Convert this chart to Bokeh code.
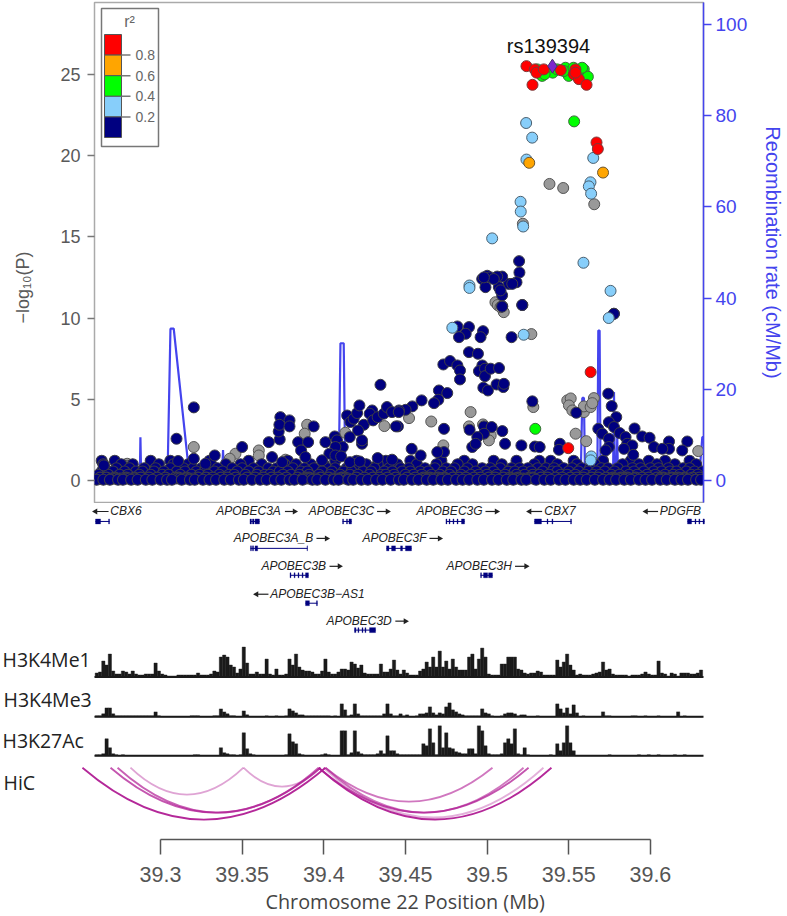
from bokeh.plotting import figure
from bokeh.layouts import column
from bokeh.models import Range1d, LinearAxis, FixedTicker, Title
from bokeh.core.properties import value
from bokeh.embed import file_html
from bokeh.resources import INLINE

# ---- association data: position in kb from 39.26 Mb, -log10(P) ----
navy_kb = [249.3,261.6,317.7,221.8,228.9,226.9,222.8,237.5,236,255,228.9,234.4,213.2,217.3,221.8,223.4,223.4,237.1,235,238.7,238.7,242.2,247.3,237.7,240.5,245.8,249.9,250.3,210.5,215.6,210.1,207.5,199.9,194.2,190.1,186,267.7,294.6,314.2,316.3,319.1,314.6,317.7,308.1,310.5,314.6,321.2,324.8,330.3,335,339.5,325.8,328.9,323.8,329.5,342.2,351.4,362.6,351.4,359.5,347.3,314.6,312.6,284.6,284,269.3,272.2,261,251,213.6,229.3,238.1,242.8,238.1,234,249.3,230.9,233,213.6,209.5,193.8,199.3,185.4,
 60.4,49.8,60.4,50.8,90,73.2,67.5,106.3,113,112.4,113.4,112.8,119,119,124.3,130.4,126.1,128.7,133.8,141,146.7,148.1,151.6,147.1,143.4,147.1,150.6,154.3,156.3,158.3,160.4,161.8,164.5,161,155.9,163.4,163.4,169.6,168.1,170.2,173,176.7,178.7,174.7,181.8,185.9,184.2,138.9,155.9,173,181.8,162,114.5,108.3,5.3,
 259.6,259.8,258,253.3,249.2,246.2,240.1,237,239,247.2,249.2,249.2,261.5,242,244.1,238,255.4,248.2,317.6]
navy_y = [10.73,10.8,10.26,9.48,9.44,9.03,8.82,9.19,8.82,8.82,7.9,7.8,7.14,7.35,7.08,6.77,6.22,7.08,6.73,6.88,6.42,6.88,6.92,5.71,5.54,5.91,5.75,5.95,5.54,5.38,4.97,4.76,4.93,4.56,4.35,4.31,4.87,4.17,5.34,4.58,3.9,3.59,3.29,3.18,2.88,2.57,2.92,2.67,3.2,2.71,2.63,2.26,2.16,1.95,1.58,2.06,2.4,2.4,1.95,1.85,1.95,2.06,1.85,2.26,1.89,2.09,2.06,2.16,2.26,3.18,3.12,3.33,3.29,2.88,2.67,3.04,2.06,2.26,1.75,1.75,1.95,1.54,3.33,
 4.5,2.57,1.34,1.2,2.06,1.54,1.03,2.36,2.53,3.02,3.9,3.43,3.7,3.33,2.36,2.36,1.85,1.44,3.33,2.36,2.71,2.47,2.06,2.06,1.65,1.54,1.48,4.0,3.6,3.8,4.15,4.62,3.43,3.08,2.67,2.26,2.47,4.31,4.11,3.7,3.9,4.11,4.52,5.89,4.21,4.21,3.33,1.24,1.13,1.38,1.28,1.17,1.13,1.44,0.93,
 13.5,12.8,12.2,12.1,12.55,12.55,12.6,12.4,11.9,11.9,11.4,10.7,10.8,12.5,12.4,12.5,12.1,11.7,10.26]

band_a = [1,5,9,14,17,22,26,31,35,40,44,47,53,58,61,66,70,74,79,83,88,91,96,101,105,110,114,119,122,127,133,136,141,146,149,155,158,163,167,172,176,181,186,189,194,198,203,207,212,216,221,225,229,234,238,243,247,252,256,261,264,270,275,279,284,288,293,297,301,306,311,315,319,324,328,333,337,341,346,350,355,359,363,368,371]
band_b = [3,7,12,19,24,28,33,38,43,49,51,56,63,68,72,77,81,86,93,98,103,108,112,117,124,129,131,138,143,151,153,160,165,170,174,179,184,191,196,201,205,210,214,219,223,227,232,236,241,245,250,254,259,266,268,273,277,282,286,291,295,299,304,308,313,317,322,326,331,335,339,344,348,353,357,361,366,370]
band_c = [2,8,15,20,27,34,41,45,52,59,64,69,76,82,85,92,99,104,107,115,120,125,131,137,144,150,156,161,168,175,178,183,190,195,200,206,211,217,224,230,235,240,246,251,258,263,268,272,278,285,289,294,300,305,309,316,321,327,332,338,343,349,354,358,365,369]
band_d = [4,11,18,25,29,36,42,50,55,62,67,73,78,87,94,100,109,113,118,126,130,139,145,152,157,164,169,177,182,188,193,199,204,213,218,226,233,239,244,253,257,262,267,274,280,283,290,296,302,307,312,318,325,330,336,342,347,352,356,362,367,372]
band_e = [6,13,21,30,37,46,54,60,65,75,84,90,97,106,111,121,128,134,142,147,154,162,171,180,187,192,202,208,215,220,228,237,242,248,255,260,265,271,276,281,287,292,298,303,310,314,320,329,334,340,345,351,360,364]
band_f = [5,16,23,39,48,57,71,80,89,102,116,123,132,140,159,166,173,185,197,209,222,231,249,269,283,295,306,323,333,344,355,368]
band_g = [4,12,34,46,70,94,118,147,160,178,193,212,226,244,258,272,279,293,311,328,339,349,364]
band_h = [10,11.5,13,15,16.5,19,21,24,50,52,54,55.5,58,60,127,129,130.5,132,134,135,146,148,150,151,153,155,200,202,204,205,207,209,212,214,255,257,258,260,262,264,266,268,316,318,319,321,323,325,327,330,346,348,351,353,356,358,361,364]
band_a_y = 0.05
band_b_y = 0.18
band_c_y = 0.35
band_d_y = 0.55
band_e_y = 0.75
band_f_y = 1.0
band_g_y = 1.22
band_h_y = 0.12

grey_kb = [19.6,85.9,82.4,100.2,100.2,116.5,129.8,128.3,153.2,177.1,192.2,205.8,229.9,268.3,289.1,291.2,290.1,292.2,299.3,299.3,303.4,305.4,304.4,294.2,300.7,369.3,228.9,242.2,237.5,241.1,213.2,267.1,60.4,278.2,286.6,305.6,261.9,245.1,246.5,250.2,248.2,
 2,10,20,32,55,76,95,135,148,178,200,216,240,275,310,338,358,366]
grey_y = [1.03,1.65,1.34,1.85,1.54,1.28,3.43,2.88,2.94,3.35,3.84,3.63,4.21,4.52,4.93,5.05,4.62,4.31,4.21,4.56,4.52,5.07,4.76,2.88,2.42,1.81,3.33,2.77,3.45,2.47,2.16,9.01,2.06,18.25,18,17,15.8,10.97,10.8,10.36,10.67,
 0.2,0.5,0.9,0.3,0.2,0.4,0.3,0.5,0.2,0.4,0.2,0.6,0.3,0.2,0.5,0.3,0.7,0.4]

light_kb = [263.9,267.6,264.1,305,303.3,302.3,303.7,260.5,260.6,262.1,243.1,299,315.6,229.2,229.2,314.5,218.7,262.4,303.8,303.4]
light_y = [22,21.1,19.75,19.85,18.35,18.1,17.65,17.15,16.55,15.63,14.9,13.4,11.67,12,11.85,10,9.4,8.97,1.48,1.24]

green_kb = [293.3,273.7,280.2,288,290,299.2,301.7,270.7,282.9,287,292.9,298.2,275.2,269.5]
green_y = [22.1,24.9,25.1,25.4,24.9,25.3,24.85,25.3,25.3,25.2,25.4,25.4,25.0,3.18]

orange_kb = [265.8,311]
orange_y = [19.55,18.95]

red_kb = [264.1,269.2,270.3,267.8,274.7,285.1,294.1,293.1,296.2,300.9,294.1,307,307.8,303.4,289.7]
red_y = [25.5,25.3,25.1,24.35,25.3,25.25,25.3,25.0,24.7,24.35,25.1,20.8,20.4,6.67,1.99]

lead_kb = [280]
lead_y = [25.5]
lead_label = "rs139394"

# ---- recombination rate ----
rate_kb = [0,27.3,27.7,28.2,44.5,46.1,48.1,56.7,57.5,77.6,78.3,79,91,92,93,95,96,97,148.8,149.2,150.2,152.2,153.2,259.8,260.5,261.2,297.3,298.3,299.3,300,307.5,308.1,308.9,309.5,312,312.6,313.2,317.1,317.7,318.3,319.2,319.7,320.2,369.7,371.8,372.5]
rate_v = [0,0,9.5,0,4.4,33.3,33.3,4.4,0,0,6.7,0,0,3,0,0,4,0,0,3,30.1,30.1,0,0,3,0,0,18.1,18.1,0,0,32.9,32.9,0,0,10,0,0,19.4,0,0,9.5,0,0,9.5,9.5]

# ---- legend ----
legend_title = "r²"
legend_colors = ["#ff0000", "#ffa500", "#00ff00", "#87cefa", "#000080"]
legend_ticks = ["0.8", "0.6", "0.4", "0.2"]

y_ticks = [0, 5, 10, 15, 20, 25]
rate_ticks = [0, 20, 40, 60, 80, 100]

# ---- genes (Mb) ----
gene_names = ["CBX6", "APOBEC3A", "APOBEC3C", "APOBEC3G", "CBX7", "PDGFB",
              "APOBEC3A_B", "APOBEC3F", "APOBEC3B", "APOBEC3H", "APOBEC3B−AS1", "APOBEC3D"]
gene_row = [0, 0, 0, 0, 0, 0, 1, 1, 2, 2, 3, 4]
gene_label_mb = [39.2789, 39.3539, 39.4108, 39.4770, 39.5446, 39.6184, 39.3692, 39.4433, 39.3816, 39.4952, 39.3961, 39.4216]
arrow_tail = [39.2682, 39.3762, 39.4326, 39.4990, 39.5337, 39.6047, 39.3955, 39.4647, 39.4035, 39.5171, 39.3661, 39.4438]
arrow_tip = [39.2602, 39.3821, 39.4390, 39.5058, 39.5260, 39.5973, 39.4017, 39.4709, 39.4096, 39.5239, 39.3588, 39.4500]
gene_start = [39.2602, 39.3548, 39.4115, 39.4751, 39.5290, 39.6227, 39.3551, 39.4384, 39.3796, 39.4960, 39.3888, 39.4188]
gene_end = [39.2688, 39.3606, 39.4170, 39.4862, 39.5517, 39.6331, 39.3900, 39.4537, 39.3906, 39.5033, 39.3961, 39.4317]
exon_gene = [0,0, 1,1,1, 2,2,2, 3,3,3,3,3, 4,4,4,4, 5,5,5,5, 6,6,6,6, 7,7,7,7, 8,8,8,8,8, 9,9,9, 10,10, 11,11,11,11,11]
exon_start = [39.2602,39.2682, 39.3548,39.3563,39.3579, 39.4115,39.4139,39.4154, 39.4748,39.4767,39.4791,39.4816,39.4843,
              39.5290,39.5367,39.5397,39.5511, 39.6227,39.6273,39.6297,39.6322, 39.3551,39.3563,39.3579,39.3897,
              39.4384,39.4415,39.4470,39.4500, 39.3793,39.3818,39.3842,39.3867,39.3888, 39.4960,39.4978,39.5009,
              39.3888,39.3955, 39.4188,39.4209,39.4234,39.4252,39.4280]
exon_end = [39.2633,39.2688, 39.3557,39.3573,39.3606, 39.4121,39.4145,39.4170, 39.4754,39.4773,39.4797,39.4822,39.4862,
            39.5333,39.5373,39.5403,39.5517, 39.6252,39.6279,39.6303,39.6331, 39.3557,39.3570,39.3595,39.3900,
            39.4399,39.4439,39.4482,39.4537, 39.3799,39.3824,39.3848,39.3873,39.3906, 39.4966,39.5003,39.5033,
            39.3912,39.3961, 39.4197,39.4215,39.4240,39.4258,39.4317]

# ---- histone tracks: signal per 2 kb bin from 39.26 Mb ----
h3k4me1 = [4,5,16,12,23,6,3,3,6,5,3,6,3,2,2,3,3,3,14,6,3,2,1,1,1,2,2,2,2,2,2,4,2,2,2,3,6,5,20,22,20,12,10,4,8,30,14,3,3,5,3,3,18,3,2,8,2,2,3,18,12,23,10,7,6,6,5,3,3,6,18,5,3,3,5,8,8,7,15,13,9,12,4,3,3,3,3,13,5,5,8,17,7,3,7,4,2,2,2,6,8,15,10,20,10,26,10,16,8,18,10,7,7,7,20,23,8,18,29,20,3,2,2,2,13,13,20,20,20,8,7,4,3,4,4,6,5,2,2,2,2,17,10,15,23,12,7,2,3,2,2,2,3,4,5,15,7,8,3,2,2,2,2,1,2,2,2,3,5,3,2,2,16,4,3,1,4,3,1,4,4,4,3,3,4,7]
h3k4me3 = [1,1,3,9,9,3,1,1,1,1,1,1,1,1,1,1,1,1,5,1,0,0,0,0,0,0,0,0,0,1,1,1,0,0,0,0,1,1,8,5,3,1,1,0,0,6,2,0,0,0,0,0,1,0,0,1,0,0,1,8,6,4,2,2,1,1,1,1,1,1,1,1,0,1,0,13,7,1,2,13,3,1,1,1,1,1,1,1,3,13,3,1,1,3,1,2,0,0,1,3,3,4,10,4,2,4,3,10,14,7,5,3,2,1,1,1,1,1,8,4,3,1,0,0,1,3,4,4,3,1,2,2,0,0,0,1,0,0,0,0,0,13,8,4,9,3,12,4,0,1,0,0,0,0,0,5,1,1,0,0,0,0,0,0,1,1,0,0,1,0,0,0,1,0,0,0,0,0,5,0,1,0,0,0,0,0]
h3k27ac = [1,1,2,17,8,2,1,0,1,0,0,0,0,0,0,0,0,0,0,0,0,0,0,0,0,0,0,0,0,0,1,1,0,0,0,0,0,0,8,3,2,1,1,0,1,23,7,2,1,0,0,0,0,0,0,0,0,0,1,22,14,12,2,1,0,0,0,0,0,1,2,1,0,0,0,25,25,1,3,25,4,2,1,1,1,1,2,5,2,20,5,5,2,1,1,1,1,1,1,1,12,10,27,13,1,30,8,23,8,7,4,3,2,2,7,7,2,30,25,10,2,1,1,1,2,13,17,12,27,2,1,8,1,0,0,0,0,0,0,1,0,12,5,13,30,13,5,0,0,0,0,0,0,0,0,0,0,1,0,0,0,0,0,0,0,0,1,0,0,1,0,0,1,0,0,0,0,1,0,0,1,0,0,0,0,0]
track_names = ["H3K4Me1", "H3K4Me3", "H3K27Ac"]
hic_label = "HiC"

# ---- HiC arcs (Mb) ----
arc_start = [39.2522, 39.2694, 39.2737, 39.2816, 39.3508, 39.4010, 39.3968, 39.4010, 39.3998, 39.3968]
arc_end = [39.4010, 39.3980, 39.3968, 39.3508, 39.3980, 39.5033, 39.5254, 39.5223, 39.5345, 39.5394]
arc_depth = [52, 45, 45, 27, 19, 34, 45, 45, 50, 52]
arc_alpha = [0.95, 0.75, 0.7, 0.4, 0.4, 0.6, 0.75, 0.6, 0.35, 0.95]

x_ticks = [39.3, 39.35, 39.4, 39.45, 39.5, 39.55, 39.6]
x_tick_labels = ["39.3", "39.35", "39.4", "39.45", "39.5", "39.55", "39.6"]
x_title = "Chromosome 22 Position (Mb)"

# ---- layout of the page ----
W = 787
PX_PER_MB = 1633.0
def mb(px):
    return 39.3 + (px - 160) / PX_PER_MB
def kb2mb(v):
    return [39.26 + k / 1000.0 for k in v]

MAIN_H = 503
PX_PER_Y = 16.25
def yv(py):
    return (480 - py) / PX_PER_Y

SANS = "Liberation Sans"
BLUE = "#4444ee"
GREY_TXT = "#595959"

p = figure(width=W, height=MAIN_H, output_backend="svg", toolbar_location=None,
           x_range=Range1d(mb(94), mb(703)), y_range=Range1d(yv(502), yv(2)),
           x_axis_location=None, y_axis_location="left", frame_align=False,
           min_border_left=94, min_border_right=84, min_border_top=2, min_border_bottom=1)
p.grid.visible = False
p.outline_line_color = "#aaaaaa"
p.outline_line_width = 1.5
p.background_fill_color = "white"

ax = p.yaxis[0]
ax.ticker = FixedTicker(ticks=y_ticks)
ax.axis_line_color = None
ax.major_tick_line_color = "#777777"
ax.major_tick_line_width = 1.5
ax.major_tick_out = 7
ax.major_tick_in = 0
ax.minor_tick_line_color = None
ax.major_label_text_font = SANS
ax.major_label_text_font_size = "18px"
ax.major_label_text_color = GREY_TXT
ax.major_label_standoff = 7

p.extra_y_ranges = {"rate": Range1d((480 - 502) / 4.56, (480 - 2) / 4.56)}
rax = LinearAxis(y_range_name="rate", ticker=FixedTicker(ticks=rate_ticks),
                 axis_label="Recombination rate (cM/Mb)")
rax.axis_line_color = BLUE
rax.axis_line_width = 1.5
rax.major_tick_line_color = BLUE
rax.major_tick_line_width = 1.5
rax.major_tick_out = 8
rax.major_tick_in = 0
rax.minor_tick_line_color = None
rax.major_label_text_font = SANS
rax.major_label_text_font_size = "19px"
rax.major_label_text_color = BLUE
rax.major_label_standoff = 4
rax.major_label_orientation = "horizontal"
rax.axis_label_text_font = SANS
rax.axis_label_text_font_style = "normal"
rax.axis_label_text_font_size = "20px"
rax.axis_label_text_color = BLUE
rax.axis_label_standoff = 12
p.add_layout(rax, "right")

p.line(kb2mb(rate_kb), rate_v, y_range_name="rate", line_color=BLUE, line_width=2.2)

SIZE = 11
OUT = "#3c3c46"
p.scatter(kb2mb(grey_kb), grey_y, size=SIZE, fill_color="#999999", line_color="#555555", line_width=1)
for vals, lvl in [(band_g, band_g_y), (band_f, band_f_y), (band_e, band_e_y), (band_d, band_d_y),
                  (band_c, band_c_y), (band_b, band_b_y), (band_h, band_h_y), (band_a, band_a_y)]:
    p.scatter(kb2mb(vals), [lvl] * len(vals), size=SIZE, fill_color="#000080", line_color=OUT, line_width=1.1)
p.scatter(kb2mb(navy_kb), navy_y, size=SIZE, fill_color="#000080", line_color=OUT, line_width=1)
p.scatter(kb2mb(light_kb), light_y, size=SIZE, fill_color="#87cefa", line_color="#4a6070", line_width=1)
p.scatter(kb2mb(green_kb), green_y, size=SIZE, fill_color="#00ff00", line_color="#3d6b3d", line_width=1)
p.scatter(kb2mb(orange_kb), orange_y, size=SIZE, fill_color="#ffa500", line_color="#6b5530", line_width=1)
p.scatter(kb2mb(red_kb), red_y, size=SIZE, fill_color="#ff0000", line_color="#7a3a3a", line_width=1)
p.scatter(kb2mb(lead_kb), lead_y, marker="diamond", size=14, fill_color="#7d26cd", line_color="#4a3070", line_width=1)

p.text([mb(548)], [yv(45)], text=[lead_label], text_font=value(SANS), text_font_size="20px",
       text_color="#111111", text_align="center", text_baseline="middle")

# legend box
p.quad(left=[mb(101)], right=[mb(158)], top=[yv(8)], bottom=[yv(146)],
       fill_color="white", line_color="#777777", line_width=1.5)
seg_top = 34.0
seg_h = (137.0 - 34.0) / len(legend_colors)
p.quad(left=[mb(104)] * 5, right=[mb(121)] * 5,
       top=[yv(seg_top + i * seg_h) for i in range(5)],
       bottom=[yv(seg_top + (i + 1) * seg_h) for i in range(5)],
       fill_color=legend_colors, line_color="#555555", line_width=1)
tick_pys = [seg_top + (i + 1) * seg_h for i in range(4)]
p.segment([mb(121)] * 4, [yv(t) for t in tick_pys], [mb(130)] * 4, [yv(t) for t in tick_pys],
          line_color="#777777", line_width=1.5)
p.text([mb(135)] * 4, [yv(t) for t in tick_pys], text=legend_ticks, text_font=value(SANS),
       text_font_size="14px", text_color="#666666", text_align="left", text_baseline="middle")
p.text([mb(129)], [yv(21)], text=[legend_title], text_font=value(SANS), text_font_size="16px",
       text_color="#666666", text_align="center", text_baseline="middle")

# left axis title, placed off-centre as in the source; the blank title is a spacer next to the axis
p.add_layout(Title(text=" ", standoff=22, text_font_size="1px"), "left")
p.add_layout(Title(text="−log₁₀(P)", align="left", offset=179, standoff=0,
                   text_font=SANS, text_font_size="18px", text_font_style="normal",
                   text_color=GREY_TXT), "left")

# ---- tracks figure: y is a layout scale running downward ----
BOTTOM_Y = 840
q = figure(width=W, height=916 - MAIN_H, output_backend="svg", toolbar_location=None,
           x_range=Range1d(mb(0), mb(W)), y_range=Range1d(BOTTOM_Y, MAIN_H),
           x_axis_location="below", y_axis_location=None, frame_align=False,
           min_border_left=0, min_border_right=0, min_border_top=0, min_border_bottom=916 - BOTTOM_Y)
q.grid.visible = False
q.outline_line_color = None
xa = q.xaxis[0]
xa.ticker = FixedTicker(ticks=x_ticks)
xa.major_label_overrides = dict(zip(x_ticks, x_tick_labels))
xa.bounds = (x_ticks[0], x_ticks[-1])
xa.axis_line_color = "#555555"
xa.axis_line_width = 1.5
xa.major_tick_line_color = "#555555"
xa.major_tick_line_width = 1.5
xa.major_tick_out = 15
xa.major_tick_in = 0
xa.minor_tick_line_color = None
xa.major_label_text_font = SANS
xa.major_label_text_font_size = "21.5px"
xa.major_label_text_color = "#555555"
xa.major_label_standoff = 12
q.add_layout(Title(text=x_title, align="left", offset=265, standoff=3,
                   text_font="Open Sans", text_font_size="19.8px", text_font_style="normal",
                   text_color="#444444"), "below")

# genes
ROW_LABEL = [511, 538, 566, 594, 621]
ROW_BAR = [521, 548, 575, 603, 630]
NAVY = "#00007f"
q.text(gene_label_mb, [ROW_LABEL[r] for r in gene_row], text=gene_names, text_font=value(SANS),
       text_font_style="italic", text_font_size="12px", text_color="#222222",
       text_align="center", text_baseline="middle")
arrow_y = [ROW_LABEL[r] for r in gene_row]
q.segment(arrow_tail, arrow_y, arrow_tip, arrow_y, line_color="#222222", line_width=1.2)
arrow_angle = [-90 if tip > tail else 90 for tip, tail in zip(arrow_tip, arrow_tail)]
q.scatter(arrow_tip, arrow_y, marker="triangle", size=6, angle=arrow_angle, angle_units="deg",
          fill_color="#222222", line_color=None)
q.segment(gene_start, [ROW_BAR[r] for r in gene_row], gene_end, [ROW_BAR[r] for r in gene_row],
          line_color=NAVY, line_width=1)
ey = [ROW_BAR[gene_row[g]] for g in exon_gene]
q.quad(left=exon_start, right=exon_end, top=[y - 2.5 for y in ey], bottom=[y + 2.5 for y in ey],
       fill_color=NAVY, line_color=NAVY, line_width=0.3)

# histone tracks
BIN = 0.002
bases = [677, 717, 756]
labels_y = [659, 700, 741]
labels_x = [2, 3, 2]
for vals, base in zip([h3k4me1, h3k4me3, h3k27ac], bases):
    n = len(vals)
    left = [39.26 + i * BIN for i in range(n)]
    right = [l + BIN for l in left]
    top = [base - v for v in vals]
    q.quad(left=left, right=right, top=top, bottom=[base] * n,
           fill_color="#1a1a1a", line_color="#1a1a1a", line_width=0.4)
    q.segment([mb(94)], [base], [mb(703)], [base], line_color="#1a1a1a", line_width=2)
q.text([mb(v) for v in labels_x], labels_y, text=track_names, text_font=value("Open Sans"),
       text_font_size="19.5px", text_color="#222222", text_align="left", text_baseline="middle")
q.text([mb(3)], [783], text=[hic_label], text_font=value("Open Sans"),
       text_font_size="19.5px", text_color="#222222", text_align="left", text_baseline="middle")

# HiC arcs: quadratic curves whose control point sits at twice the depth
ARC_TOP = 768
q.quadratic(x0=arc_start, y0=[ARC_TOP] * len(arc_start), x1=arc_end, y1=[ARC_TOP] * len(arc_end),
            cx=[(a + b) / 2 for a, b in zip(arc_start, arc_end)],
            cy=[ARC_TOP + 2 * d for d in arc_depth],
            line_color="#b01c94", line_alpha=arc_alpha, line_width=1.8)

layout = column(p, q, spacing=0)
open("out.html", "w").write(file_html(layout, INLINE))
